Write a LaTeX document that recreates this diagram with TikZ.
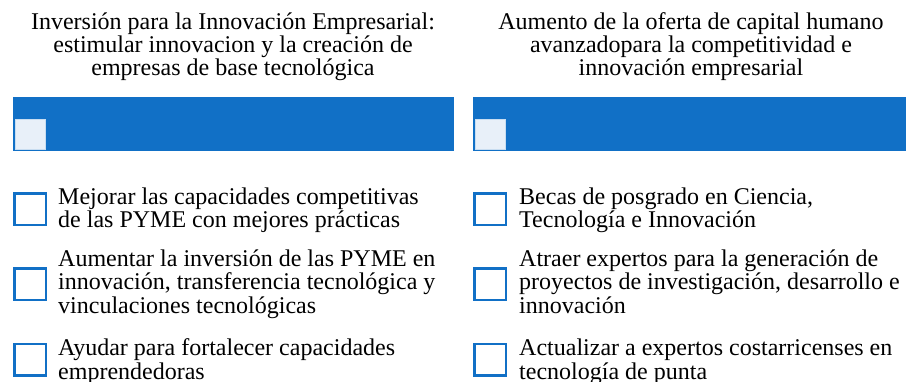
\documentclass[tikz,border=0pt]{standalone}
\usepackage{fontspec}
\setmainfont{Liberation Serif}
\definecolor{barblue}{HTML}{1170C6}
\definecolor{lightsq}{HTML}{E8F0F9}
\begin{document}
\begin{tikzpicture}[x=1pt,y=-1pt,
  bar/.style={fill=barblue, draw=none, inner sep=0, outer sep=0, minimum height=54pt, anchor=north west},
  tick/.style={fill=lightsq, draw=lightsq!85!barblue, line width=0.6pt, inner sep=0, minimum size=30pt, anchor=north west},
  itembox/.style={draw=barblue, fill=white, line width=2.5pt, inner sep=0, minimum size=31.5pt},
  ttl/.style={anchor=base, inner sep=0, font=\fontsize{24}{23.3}\selectfont},
  txt/.style={anchor=base west, inner sep=0, font=\fontsize{24}{23.6}\selectfont}]
\useasboundingbox (0,0) rectangle (906,381);
% titles
\node[ttl] (hL) at (233,29) {\parbox[t]{440pt}{\centering Inversión para la Innovación Empresarial:\\estimular innovacion y la creación de\\empresas de base tecnológica}};
\node[ttl] (hR) at (691,29) {\parbox[t]{440pt}{\centering Aumento de la oferta de capital humano\\avanzadopara la competitividad e\\innovación empresarial}};
% bars
\node[bar, minimum width=441pt] (barL) at (13,97) {};
\node[bar, minimum width=433pt] (barR) at (473,97) {};
\node[tick] (tkL) at (15,119) {};
\node[tick] (tkR) at (475,119) {};
% left items
\node[itembox] (bL1) at (30,209) {};
\node[itembox] (bL2) at (30,284) {};
\node[itembox] (bL3) at (30,359.5) {};
\node[txt] (tL1) at (58,204) {\parbox[t]{400pt}{Mejorar las capacidades competitivas\\de las PYME con mejores prácticas}};
\node[txt] (tL2) at (58,266) {\parbox[t]{400pt}{Aumentar la inversión de las PYME en\\innovación, transferencia tecnológica y\\vinculaciones tecnológicas}};
\node[txt] (tL3) at (58,355.5) {\parbox[t]{400pt}{Ayudar para fortalecer capacidades\\emprendedoras}};
% right items
\node[itembox] (bR1) at (490,209) {};
\node[itembox] (bR2) at (490,284) {};
\node[itembox] (bR3) at (490,359.5) {};
\node[txt] (tR1) at (519,204) {\parbox[t]{400pt}{Becas de posgrado en Ciencia,\\Tecnología e Innovación}};
\node[txt] (tR2) at (519,266) {\parbox[t]{400pt}{Atraer expertos para la generación de\\proyectos de investigación, desarrollo e\\innovación}};
\node[txt] (tR3) at (519,355.5) {\parbox[t]{400pt}{Actualizar a expertos costarricenses en\\tecnología de punta}};
\end{tikzpicture}
\end{document}
